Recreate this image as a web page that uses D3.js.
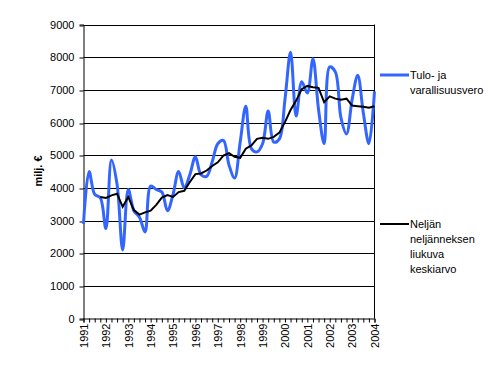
<!DOCTYPE html>
<html><head><meta charset="utf-8">
<script src="https://cdn.jsdelivr.net/npm/d3@7"></script>
<style>
body{margin:0;background:#fff;}
svg{display:block;font-family:"Liberation Sans",Arial,sans-serif;}
</style></head>
<body><svg id="c" width="490" height="368"></svg>
<script>
const yearLabels = ["1991","1992","1993","1994","1995","1996","1997","1998","1999","2000","2001","2002","2003","2004"];
// quarterly values, 1991 Q1 .. 2004 Q1 (milj. €)
const taxValues = [2900,4500,3800,3700,2750,4850,4100,2100,3950,3300,3100,2650,4050,3950,3870,3300,3800,4500,4000,4400,4950,4400,4350,4800,5350,5450,4700,4300,5400,6500,5200,5100,5350,6350,5400,5500,6700,8150,6200,7250,6900,7950,6400,5350,7700,7550,6150,5650,6700,7450,6300,5350,6950];
const movingAvg = [null,null,null,3720,3690,3770,3820,3420,3720,3320,3180,3250,3300,3480,3700,3780,3720,3870,3910,4180,4420,4440,4530,4670,4780,4990,5060,4950,4920,5200,5300,5500,5530,5500,5560,5690,6010,6380,6670,7020,7120,7080,7060,6620,6800,6730,6700,6730,6520,6500,6480,6450,6500];
const yTicks = [0,1000,2000,3000,4000,5000,6000,7000,8000,9000];
const seriesNames = [["Tulo- ja","varallisuusvero"],["Neljän","neljänneksen","liukuva","keskiarvo"]];
const yTitle = "milj. €";

const svg = d3.select("#c");
const L = 83.5, R = 374.5, T = 24.5, B = 318.5;
const x = d3.scaleLinear().domain([0, taxValues.length - 1]).range([L, R]);
const y = d3.scaleLinear().domain([0, 9000]).range([B, T]);

// gridlines
svg.append("g").selectAll("line").data(yTicks.filter(d => d > 0)).join("line")
  .attr("x1", L).attr("x2", R)
  .attr("y1", d => Math.round(y(d)) + 0.5).attr("y2", d => Math.round(y(d)) + 0.5)
  .attr("stroke", "#000").attr("stroke-width", 1);
// right border
svg.append("line").attr("x1", R).attr("x2", R).attr("y1", T).attr("y2", B).attr("stroke", "#000");

// y axis
const ya = svg.append("g").attr("transform", `translate(${L},0)`)
  .call(d3.axisLeft(y).tickValues(yTicks).tickSize(4).tickPadding(5).tickFormat(d3.format("d")));
ya.select(".domain").attr("stroke", "#000");
ya.selectAll(".tick line").attr("stroke", "#000").attr("transform", d => `translate(0,${Math.round(y(d)) + 0.5 - y(d)})`);
ya.selectAll("text").attr("font-size", 11).attr("fill", "#000").attr("font-family", "Liberation Sans, Arial, sans-serif");

// x axis
const idx = d3.range(taxValues.length);
const xa = svg.append("g").attr("transform", `translate(0,${B})`)
  .call(d3.axisBottom(x).tickValues(idx).tickSize(4)
    .tickFormat(i => i % 4 === 0 ? yearLabels[i / 4] : ""));
xa.select(".domain").attr("stroke", "#000");
xa.selectAll(".tick line").attr("stroke", "#000");
xa.selectAll("text").attr("font-size", 11).attr("fill", "#000")
  .attr("font-family", "Liberation Sans, Arial, sans-serif")
  .attr("text-anchor", "end")
  .attr("transform", "rotate(-90)")
  .attr("x", -5).attr("y", 0).attr("dy", "0.35em");

// series
svg.append("path").datum(taxValues.map((v, i) => [i, v]))
  .attr("fill", "none").attr("stroke", "#3366ff").attr("stroke-width", 3)
  .attr("stroke-linejoin", "round")
  .attr("d", d3.line().x(d => x(d[0])).y(d => y(d[1])).curve(d3.curveCatmullRom.alpha(0.5)));
svg.append("path").datum(movingAvg.map((v, i) => [i, v]).filter(d => d[1] != null))
  .attr("fill", "none").attr("stroke", "#000").attr("stroke-width", 2)
  .attr("d", d3.line().x(d => x(d[0])).y(d => y(d[1])));

// y title
svg.append("text").attr("transform", "translate(42,171) rotate(-90)")
  .attr("text-anchor", "middle").attr("font-size", 11).attr("font-weight", "bold")
  .text(yTitle);

// legend
const legendItems = [
  {names: seriesNames[0], color: "#3366ff", w: 3, y: 75},
  {names: seriesNames[1], color: "#000", w: 2, y: 224}
];
legendItems.forEach(it => {
  svg.append("line").attr("x1", 380).attr("x2", 409).attr("y1", it.y).attr("y2", it.y)
    .attr("stroke", it.color).attr("stroke-width", it.w);
  it.names.forEach((n, k) => {
    svg.append("text").attr("x", 410).attr("y", it.y + k * 15).attr("dy", "0.35em")
      .attr("font-size", 11).text(n);
  });
});
</script></body></html>
